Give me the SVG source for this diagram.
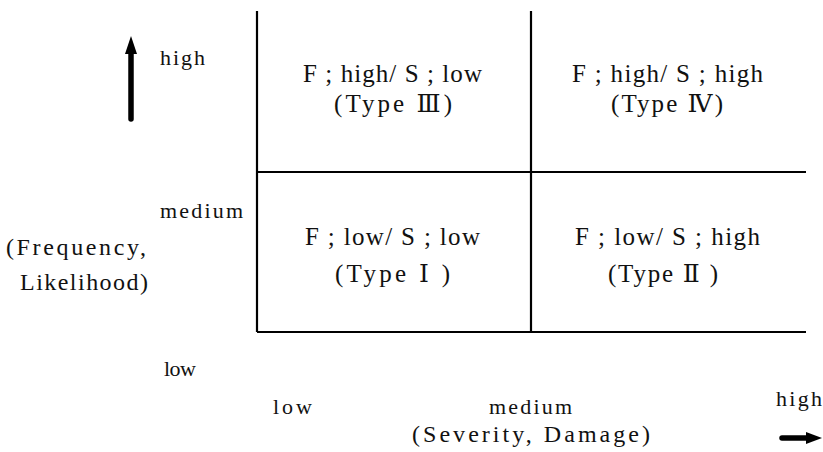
<svg xmlns="http://www.w3.org/2000/svg" width="823" height="452" viewBox="0 0 823 452">
<style>
.grid{stroke:#000;stroke-width:2.2;fill:none}
</style>
<rect width="823" height="452" fill="#fff"/>
<g id="connectors">
<path class="grid" d="M257,11V332M531,11V332M257,172H806M257,332H806"/>
<path d="M131,119V52" stroke="#000" stroke-width="5.5" stroke-linecap="round"/>
<path d="M131,36L125,54H137Z" fill="#000"/>
<path d="M782,438H810" stroke="#000" stroke-width="5.5" stroke-linecap="round"/>
<path d="M822,438L806,432V444Z" fill="#000"/>
</g>
<g font-family="Liberation Serif, DejaVu Serif, Noto Sans CJK KR, serif" fill="#111">
<g id="cell3" font-size="25"><text x="303" y="82" textLength="179" lengthAdjust="spacing">F ; high/ S ; low</text><text x="334" y="112" textLength="118" lengthAdjust="spacing">(Type  Ⅲ)</text></g>
<g id="cell4" font-size="25"><text x="572" y="82" textLength="191" lengthAdjust="spacing">F ; high/ S ; high</text><text x="611" y="112" textLength="112" lengthAdjust="spacing">(Type  Ⅳ)</text></g>
<g id="cell1" font-size="25"><text x="305" y="245" textLength="175" lengthAdjust="spacing">F ; low/ S ; low</text><text x="335" y="282" textLength="115" lengthAdjust="spacing">(Type  Ⅰ )</text></g>
<g id="cell2" font-size="25"><text x="575" y="245" textLength="185" lengthAdjust="spacing">F ; low/ S ; high</text><text x="608" y="282" textLength="110" lengthAdjust="spacing">(Type  Ⅱ )</text></g>
<g id="yaxis" font-size="22">
<text x="160" y="65" textLength="45" lengthAdjust="spacing">high</text>
<text x="160" y="218" textLength="83" lengthAdjust="spacing">medium</text>
<text x="164" y="376" textLength="32" lengthAdjust="spacing">low</text>
<text x="6" y="255" font-size="24" textLength="140" lengthAdjust="spacing">(Frequency,</text>
<text x="20" y="290" font-size="24" textLength="128" lengthAdjust="spacing">Likelihood)</text>
</g>
<g id="xaxis" font-size="22">
<text x="273" y="414" textLength="39" lengthAdjust="spacing">low</text>
<text x="489" y="414" textLength="83" lengthAdjust="spacing">medium</text>
<text x="776" y="406" textLength="46" lengthAdjust="spacing">high</text>
<text x="412" y="442" font-size="24" textLength="238" lengthAdjust="spacing">(Severity, Damage)</text>
</g>
</g>
</svg>
